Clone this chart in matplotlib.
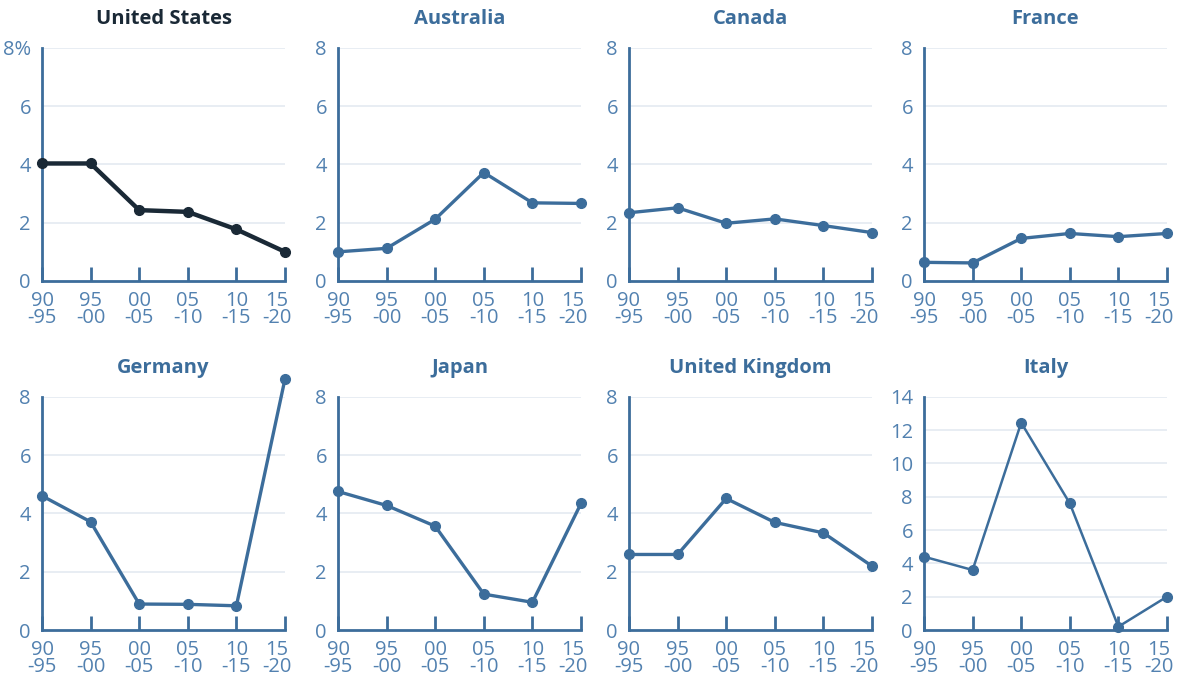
import numpy as np
import matplotlib
matplotlib.use("Agg")
import matplotlib.pyplot as plt
import matplotlib.transforms as mtransforms

# Period labels along the x axis
periods = ["90\n-95", "95\n-00", "00\n-05", "05\n-10", "10\n-15", "15\n-20"]

# Values (%)
united_states = [4.03, 4.03, 2.43, 2.37, 1.77, 1.0]
australia = [1.0, 1.12, 2.12, 3.72, 2.68, 2.66]
canada = [2.34, 2.51, 1.98, 2.13, 1.9, 1.66]
france = [0.64, 0.62, 1.46, 1.63, 1.52, 1.63]
germany = [4.6, 3.71, 0.89, 0.88, 0.83, 8.61]
japan = [4.75, 4.27, 3.56, 1.23, 0.95, 4.34]
united_kingdom = [2.59, 2.59, 4.51, 3.69, 3.33, 2.19]
italy = [4.4, 3.6, 12.44, 7.6, 0.2, 2.0]

names = ["United States", "Australia", "Canada", "France",
         "Germany", "Japan", "United Kingdom", "Italy"]
series = [united_states, australia, canada, france,
          germany, japan, united_kingdom, italy]

BLUE = "#3c6d9b"
DARK = "#1a2936"
TICK = "#5281b0"
GRID = "#e6ecf2"

plt.rcParams['font.family'] = ['Open Sans', 'DejaVu Sans']

W, H = 1177, 679
fig = plt.figure(figsize=(W / 100, H / 100), dpi=100)

# left edges of each panel's y axis (pixels)
lefts = [42, 338, 629, 924]
width = 243
tops = [47.7, 396.7]
height = 233.3

for i, (name, vals) in enumerate(zip(names, series)):
    row, col = divmod(i, 4)
    ax = fig.add_axes([lefts[col] / W, 1 - (tops[row] + height) / H,
                       width / W, height / H])
    x = np.arange(len(periods))

    # styling per panel
    if name == "United States":
        color, lw, title_color = DARK, 3.2, DARK
    elif name == "Italy":
        color, lw, title_color = BLUE, 1.8, BLUE
    else:
        color, lw, title_color = BLUE, 2.4, BLUE

    ax.plot(x, vals, color=color, lw=lw, marker="o", markersize=7,
            clip_on=False, zorder=5)

    # y scale
    ymax = 14 if name == "Italy" else 8
    yt = np.arange(0, ymax + 1, 2)
    ax.set_ylim(0, ymax)
    ax.set_xlim(0, 5)
    ax.set_yticks(yt)
    ylabels = [str(v) for v in yt]
    if name == "United States":
        ylabels[-1] = "8%"
    ax.set_yticklabels(ylabels)
    for v in yt[1:]:
        ax.axhline(v, color=GRID, lw=1.3, zorder=0)

    ax.set_xticks(x)
    ax.set_xticklabels(periods, linespacing=0.85)

    ax.tick_params(axis="x", direction="in", length=10, width=2,
                   color=BLUE, labelcolor=TICK, labelsize=14.5, pad=7)
    ax.tick_params(axis="y", length=0, labelcolor=TICK, labelsize=14.5, pad=8)

    # last period label sits a little to the left, as in the original
    last = ax.get_xticklabels()[-1]
    last.set_transform(last.get_transform() +
                       mtransforms.ScaledTranslation(-8 / 100, 0, fig.dpi_scale_trans))

    for side in ["top", "right"]:
        ax.spines[side].set_visible(False)
    for side in ["left", "bottom"]:
        ax.spines[side].set_color(BLUE)
        ax.spines[side].set_linewidth(2)

    ax.set_title(name, fontsize=14.5, fontweight="bold", color=title_color,
                 pad=17)

fig.savefig("out.png", dpi=100)
